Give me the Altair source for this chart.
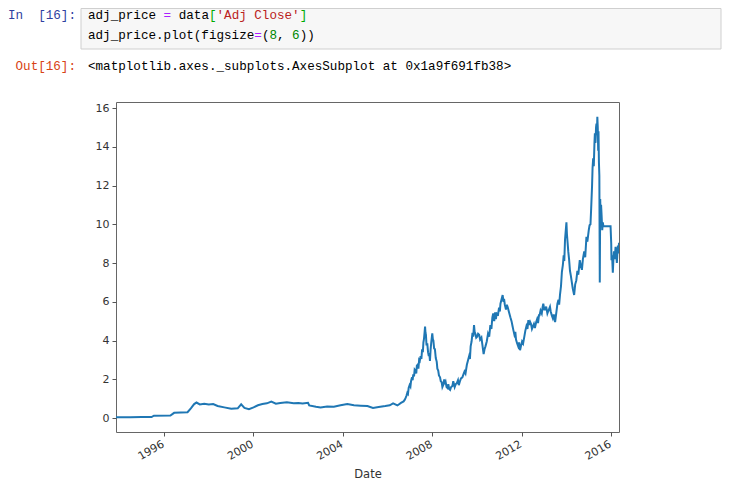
import altair as alt
import pandas as pd

# ---------------- data ----------------
dates = [
    "1993-11-08", "1994-07-01", "1995-01-02", "1995-06-12", "1995-07-20", "1996-04-15",
    "1996-06-15", "1997-01-20", "1997-03-15", "1997-05-08", "1997-06-15", "1997-08-08",
    "1997-10-20", "1998-01-02", "1998-03-15", "1998-05-26", "1998-09-12", "1999-01-04",
    "1999-04-20", "1999-06-15", "1999-08-08", "1999-10-20", "2000-01-04", "2000-03-15",
    "2000-05-26", "2000-08-08", "2000-10-20", "2001-01-02", "2001-03-15", "2001-07-01",
    "2001-10-20", "2002-01-04", "2002-03-15", "2002-06-12", "2002-07-01", "2002-10-20",
    "2003-01-02", "2003-04-20", "2003-08-08", "2003-11-25", "2004-03-15", "2004-07-01",
    "2004-10-20", "2005-02-06", "2005-05-08", "2005-08-08", "2005-11-25", "2006-02-06",
    "2006-04-01", "2006-06-12", "2006-08-08",
    "2006-09-20", "2006-10-10", "2006-10-25", "2006-11-06", "2006-11-20", "2006-12-01",
    "2006-12-12", "2006-12-28", "2007-01-10", "2007-01-20", "2007-02-05", "2007-02-15",
    "2007-02-25", "2007-03-10", "2007-03-20", "2007-04-01", "2007-04-15", "2007-04-25",
    "2007-05-08", "2007-05-20", "2007-06-01", "2007-06-12", "2007-06-25", "2007-07-08",
    "2007-07-20", "2007-08-01", "2007-08-10", "2007-08-20", "2007-08-30", "2007-09-06",
    "2007-09-13", "2007-09-20", "2007-09-30", "2007-10-12", "2007-10-25", "2007-11-06",
    "2007-11-15", "2007-11-25", "2007-12-05", "2007-12-16", "2008-01-02", "2008-01-12",
    "2008-01-20", "2008-02-01", "2008-02-14", "2008-02-28", "2008-03-15", "2008-03-25",
    "2008-04-08", "2008-04-20", "2008-05-08", "2008-05-20", "2008-06-03", "2008-06-15",
    "2008-07-01", "2008-07-15", "2008-07-28", "2008-08-08", "2008-08-22", "2008-09-06",
    "2008-09-20", "2008-10-05", "2008-10-20", "2008-11-05", "2008-11-25", "2008-12-10",
    "2009-01-02", "2009-01-20", "2009-02-06", "2009-02-25", "2009-03-10", "2009-03-29",
    "2009-04-15", "2009-05-08", "2009-05-25", "2009-06-12", "2009-06-28", "2009-07-20",
    "2009-08-05", "2009-08-26", "2009-09-08", "2009-09-20", "2009-10-05", "2009-10-20",
    "2009-11-01", "2009-11-14", "2009-11-24", "2009-12-06", "2009-12-20", "2010-01-04",
    "2010-01-20", "2010-02-06", "2010-02-22", "2010-03-15", "2010-03-30", "2010-04-20",
    "2010-05-05", "2010-05-20", "2010-06-10", "2010-07-01", "2010-07-20", "2010-08-08",
    "2010-08-25", "2010-09-10", "2010-09-24", "2010-10-10", "2010-10-25", "2010-11-06",
    "2010-11-20", "2010-12-12", "2010-12-28", "2011-01-10", "2011-01-20", "2011-02-05",
    "2011-02-25", "2011-03-10", "2011-03-20", "2011-04-01", "2011-04-20", "2011-05-05",
    "2011-05-20", "2011-06-10", "2011-07-01", "2011-07-20", "2011-08-05", "2011-08-18",
    "2011-09-05", "2011-09-20", "2011-10-01", "2011-10-20", "2011-11-06", "2011-11-20",
    "2011-12-06", "2011-12-20", "2012-01-08", "2012-01-25", "2012-02-14", "2012-03-01",
    "2012-03-20", "2012-04-05", "2012-04-20", "2012-05-08", "2012-05-20", "2012-06-03",
    "2012-06-18", "2012-07-01", "2012-07-20", "2012-08-05", "2012-08-26", "2012-09-10",
    "2012-09-25", "2012-10-10", "2012-10-20", "2012-11-05", "2012-11-25", "2012-12-10",
    "2012-12-20", "2013-01-05", "2013-01-20", "2013-02-05", "2013-02-25", "2013-03-15",
    "2013-04-08", "2013-04-20", "2013-05-08", "2013-05-25", "2013-06-10", "2013-07-01",
    "2013-07-15", "2013-08-08", "2013-08-25", "2013-09-05", "2013-09-20", "2013-10-05",
    "2013-10-20", "2013-11-05", "2013-11-18", "2013-11-28", "2013-12-10", "2013-12-20",
    "2014-01-02", "2014-01-10", "2014-01-20", "2014-02-01", "2014-02-14", "2014-03-01",
    "2014-03-15", "2014-03-29", "2014-04-15", "2014-05-08", "2014-05-25", "2014-06-12",
    "2014-06-30", "2014-07-15", "2014-08-08", "2014-08-25", "2014-09-12", "2014-09-28",
    "2014-10-20", "2014-11-05", "2014-11-25", "2014-12-10", "2015-01-02", "2015-01-15",
    "2015-01-30", "2015-02-10", "2015-02-25", "2015-03-05", "2015-03-15", "2015-03-25",
    "2015-04-05", "2015-04-12", "2015-04-22", "2015-05-01", "2015-05-08", "2015-05-15",
    "2015-05-22", "2015-05-29", "2015-06-05", "2015-06-10", "2015-06-17", "2015-06-24",
    "2015-07-01", "2015-07-08", "2015-07-15", "2015-07-22", "2015-07-30", "2015-08-10",
    "2015-08-20", "2015-08-28", "2015-12-24", "2016-01-04", "2016-01-08", "2016-01-18",
    "2016-01-30", "2016-02-10", "2016-02-18", "2016-03-01", "2016-03-15", "2016-03-25",
    "2016-04-05", "2016-04-15", "2016-04-22", "2016-05-02", "2016-05-10",
]
adj_close = [
    0.04, 0.04, 0.05, 0.05, 0.12, 0.13,
    0.27, 0.30, 0.50, 0.72, 0.80, 0.70,
    0.74, 0.70, 0.72, 0.62, 0.55, 0.48,
    0.50, 0.71, 0.52, 0.46, 0.55, 0.66,
    0.72, 0.76, 0.85, 0.74, 0.78, 0.81,
    0.76, 0.78, 0.75, 0.79, 0.65, 0.58,
    0.55, 0.60, 0.58, 0.66, 0.72, 0.66,
    0.64, 0.62, 0.52, 0.57, 0.62, 0.66,
    0.76, 0.65, 0.78,
    0.86, 0.95, 1.05, 1.15, 1.30, 1.25,
    1.55, 1.70, 1.62, 1.90, 2.10, 1.95,
    2.25, 2.15, 2.50, 2.45, 2.30, 2.70,
    2.75, 2.55, 3.00, 2.95, 3.20, 3.05,
    3.55, 3.40, 3.90, 4.10, 4.45, 4.72,
    4.40, 4.30, 3.75, 3.85, 3.40, 3.20,
    3.35, 2.95, 3.50, 3.90, 4.37, 4.05,
    4.00, 3.60, 3.55, 3.10, 2.90, 2.55,
    2.45, 2.20, 2.10, 1.90, 1.85, 1.60,
    1.72, 2.00, 1.75, 1.85, 1.60, 1.55,
    1.75, 1.50, 1.45, 1.60, 1.65, 1.90,
    1.60, 1.75, 1.80, 1.95, 1.70, 1.90,
    2.05, 2.10, 2.25, 2.40, 2.30, 2.75,
    2.95, 3.20, 3.05, 3.70, 3.95, 4.40,
    4.20, 4.80, 4.45, 4.35, 4.15, 4.20,
    4.35, 4.30, 4.05, 4.15, 3.80, 3.30,
    3.55, 3.70, 3.95, 4.35, 4.20, 4.80,
    4.60, 5.20, 5.40, 5.00, 5.45, 5.10,
    5.40, 5.35, 5.70, 5.50, 5.90, 6.10,
    6.35, 6.00, 6.15, 5.85, 5.60, 5.85,
    5.70, 5.45, 5.20, 5.00, 4.75, 4.55,
    4.30, 4.45, 4.05, 3.85, 3.70, 3.90,
    3.50, 3.70, 3.95, 3.85, 4.20, 4.50,
    4.75, 4.60, 5.05, 4.80, 4.95, 4.85,
    4.60, 4.70, 4.85, 4.65, 4.95, 5.10,
    4.90, 5.30, 5.30, 5.55, 5.40, 5.75,
    5.90, 5.60, 5.60, 5.75, 5.40, 5.55,
    5.74, 5.50, 5.30, 5.15, 5.35, 4.95,
    5.30, 5.90, 6.10, 5.85, 6.40, 6.80,
    7.55, 7.90, 8.40, 8.10, 9.20, 9.60,
    10.1, 9.50, 9.10, 8.60, 8.20, 7.60,
    7.35, 7.05, 6.70, 6.35, 6.90, 7.10,
    7.60, 7.40, 8.15, 7.85, 7.65, 8.20,
    8.60, 8.30, 9.35, 9.10, 9.70, 9.95,
    10.0, 10.8, 12.0, 12.9, 13.4, 13.0,
    14.2, 14.7, 14.2, 15.0, 15.2, 14.6,
    15.55, 15.0, 13.8, 14.8, 13.2, 12.5,
    7.0, 11.3, 10.2, 11.0, 10.5, 9.70,
    10.1, 9.9, 9.9, 9.0, 8.15, 8.4,
    7.5, 8.3, 8.6, 8.2, 8.84, 8.5,
    8.0, 8.6, 8.9, 8.5, 9.05,
]
year_ticks = [1996, 2000, 2004, 2008, 2012, 2016]
y_ticks = [0, 2, 4, 6, 8, 10, 12, 14, 16]

df = pd.DataFrame({"Date": dates, "Adj Close": adj_close})

# ---------------- main plot ----------------
W, H = 503, 330

line = alt.Chart(df).mark_line(color="#1f77b4", strokeWidth=2.0, clip=True).encode(
    x=alt.X(
        "Date:T",
        scale=alt.Scale(
            type="utc",
            domain=[alt.DateTime(year=1993, month=11, date=8, utc=True),
                    alt.DateTime(year=2016, month=5, date=10, utc=True)],
            nice=False,
        ),
        axis=alt.Axis(
            title="Date",
            values=[alt.DateTime(year=y, month=1, date=1, utc=True) for y in year_ticks],
            format="%Y",
            labelAngle=-30,
            labelAlign="right",
            labelBaseline="top",
            labelPadding=2,
            labelOffset=-4,
            titleY=42,
            titleBaseline="middle",
        ),
    ),
    y=alt.Y(
        "Adj Close:Q",
        scale=alt.Scale(domain=[-0.72, 16.31], nice=False, zero=False),
        axis=alt.Axis(title=None, values=y_ticks, labelPadding=3),
    ),
)

# ---------------- notebook cell header (text) ----------------
one = pd.DataFrame({"k": [0]})
MONO = "Liberation Mono"
FS = 12.6
CW = FS * 0.6

layers = []
# code cell box
layers.append(
    alt.Chart(one).mark_rect(fill="#f7f7f7", stroke="#cfcfcf", strokeWidth=1).encode(
        x=alt.value(-35), x2=alt.value(605), y=alt.value(-93.5), y2=alt.value(-53)
    )
)


def segs(pieces, x0, y):
    out = []
    col = 0
    for txt, color in pieces:
        stripped = txt.lstrip(" ")
        lead = len(txt) - len(stripped)
        if stripped.strip():
            out.append(
                alt.Chart(one).mark_text(
                    text=stripped.rstrip(" "), font=MONO, fontSize=FS, color=color,
                    align="left", baseline="middle",
                ).encode(x=alt.value(x0 + (col + lead) * CW), y=alt.value(y))
            )
        col += len(txt)
    return out


BLK = "#000000"
PUR = "#aa22ff"
RED = "#ba2121"
GRN = "#008800"
BRK = "#00aa00"
BLUE = "#303f9f"
ORNG = "#d84315"

layers += segs([("adj_price ", BLK), ("=", PUR), (" data", BLK), ("[", BRK),
                ("'Adj Close'", RED), ("]", BRK)], -28, -87)
layers += segs([("adj_price.plot(figsize", BLK), ("=", PUR), ("(", BLK), ("8", GRN),
                (", ", BLK), ("6", GRN), ("))", BLK)], -28, -67)
layers += segs([("<matplotlib.axes._subplots.AxesSubplot at 0x1a9f691fb38>", BLK)], -28, -36)

# prompts: "In  [16]:" and "Out[16]:"
layers += segs([("In", BLUE), ("  [16]:", BLUE)], -40 - 9 * CW, -87)
layers += segs([("Out[16]:", ORNG)], -40 - 8 * CW, -36)

chart = alt.layer(line, *layers).properties(
    width=W,
    height=H,
    autosize=alt.AutoSizeParams(type="none"),
    padding={"left": 108, "top": 94, "right": 103, "bottom": 51},
).configure_view(
    stroke="#666666", strokeWidth=1
).configure_axis(
    grid=False,
    domain=False,
    ticks=True,
    tickSize=4,
    tickColor="#555555",
    labelFont="DejaVu Sans",
    labelFontSize=11,
    labelColor="#333333",
    titleFont="DejaVu Sans",
    titleFontSize=11.5,
    titleFontWeight="normal",
    titleColor="#333333",
)

chart.save("out.html", embed_options={"renderer": "svg", "actions": False})
